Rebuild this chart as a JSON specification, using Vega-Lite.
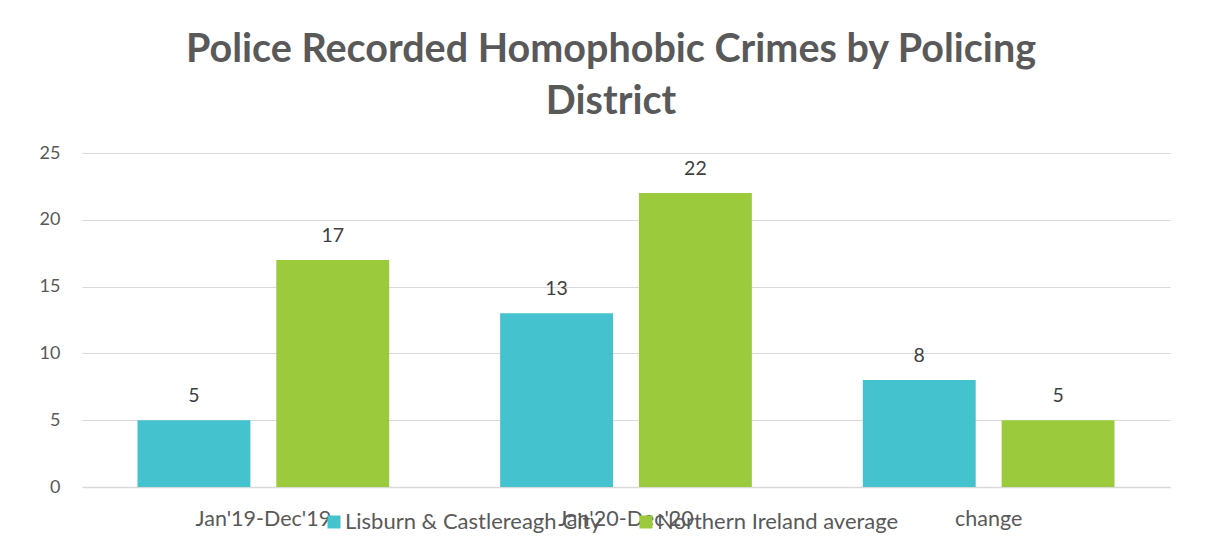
{
  "$schema": "https://vega.github.io/schema/vega-lite/v6.json",
  "width": 1088,
  "height": 334,
  "autosize": {"type": "none"},
  "padding": {"left": 82, "top": 153, "right": 41, "bottom": 69},
  "background": "white",
  "config": {"view": {"stroke": null}},
  "title": {
    "text": ["Police Recorded Homophobic Crimes by Policing", "District"],
    "font": "Lato",
    "fontSize": 39.5,
    "fontWeight": "bold",
    "color": "#595959",
    "anchor": "middle",
    "dx": -15,
    "offset": 22,
    "lineHeight": 52
  },
  "data": {
    "values": [
      {"period": "Jan'19-Dec'19", "series": "Lisburn & Castlereagh City", "value": 5},
      {"period": "Jan'19-Dec'19", "series": "Northern Ireland average", "value": 17},
      {"period": "Jan'20-Dec'20", "series": "Lisburn & Castlereagh City", "value": 13},
      {"period": "Jan'20-Dec'20", "series": "Northern Ireland average", "value": 22},
      {"period": "change", "series": "Lisburn & Castlereagh City", "value": 8},
      {"period": "change", "series": "Northern Ireland average", "value": 5}
    ]
  },
  "encoding": {
    "x": {
      "field": "period",
      "type": "nominal",
      "sort": ["Jan'19-Dec'19", "Jan'20-Dec'20", "change"],
      "scale": {"paddingInner": 0.306, "paddingOuter": 0.153},
      "axis": {
        "title": null,
        "labelAngle": 0,
        "domain": true,
        "domainColor": "#d9d9d9",
        "domainWidth": 1.5,
        "ticks": false,
        "grid": false,
        "labelPadding": 21,
        "labelFont": "Lato",
        "labelFontSize": 21.5,
        "labelColor": "#595959"
      }
    },
    "xOffset": {
      "field": "series",
      "type": "nominal",
      "sort": ["Lisburn & Castlereagh City", "Northern Ireland average"],
      "scale": {"paddingInner": 0.187, "paddingOuter": 0}
    },
    "y": {
      "field": "value",
      "type": "quantitative",
      "scale": {"domain": [0, 25]},
      "axis": {
        "title": null,
        "values": [0, 5, 10, 15, 20, 25],
        "grid": true,
        "gridColor": "#d9d9d9",
        "gridWidth": 1,
        "domain": false,
        "ticks": false,
        "labelPadding": 22,
        "labelFont": "Lato",
        "labelFontSize": 18,
        "labelColor": "#595959"
      }
    }
  },
  "layer": [
    {
      "mark": {"type": "bar"},
      "encoding": {
        "color": {
          "field": "series",
          "type": "nominal",
          "scale": {
            "domain": ["Lisburn & Castlereagh City", "Northern Ireland average"],
            "range": ["#44C2CE", "#9BCA3C"]
          },
          "legend": {
            "title": null,
            "orient": "none",
            "legendX": 241,
            "legendY": 358,
            "direction": "horizontal",
            "symbolType": "square",
            "symbolSize": 169,
            "symbolStrokeWidth": 0,
            "labelFont": "Lato",
            "labelFontSize": 22,
            "labelColor": "#595959",
            "labelOffset": 0,
            "columnPadding": 33,
            "labelLimit": 400
          }
        }
      }
    },
    {
      "mark": {
        "type": "text",
        "baseline": "bottom",
        "dy": -14,
        "font": "Lato",
        "fontSize": 19.5,
        "color": "#404040"
      },
      "encoding": {
        "text": {"field": "value", "type": "quantitative"}
      }
    }
  ]
}
